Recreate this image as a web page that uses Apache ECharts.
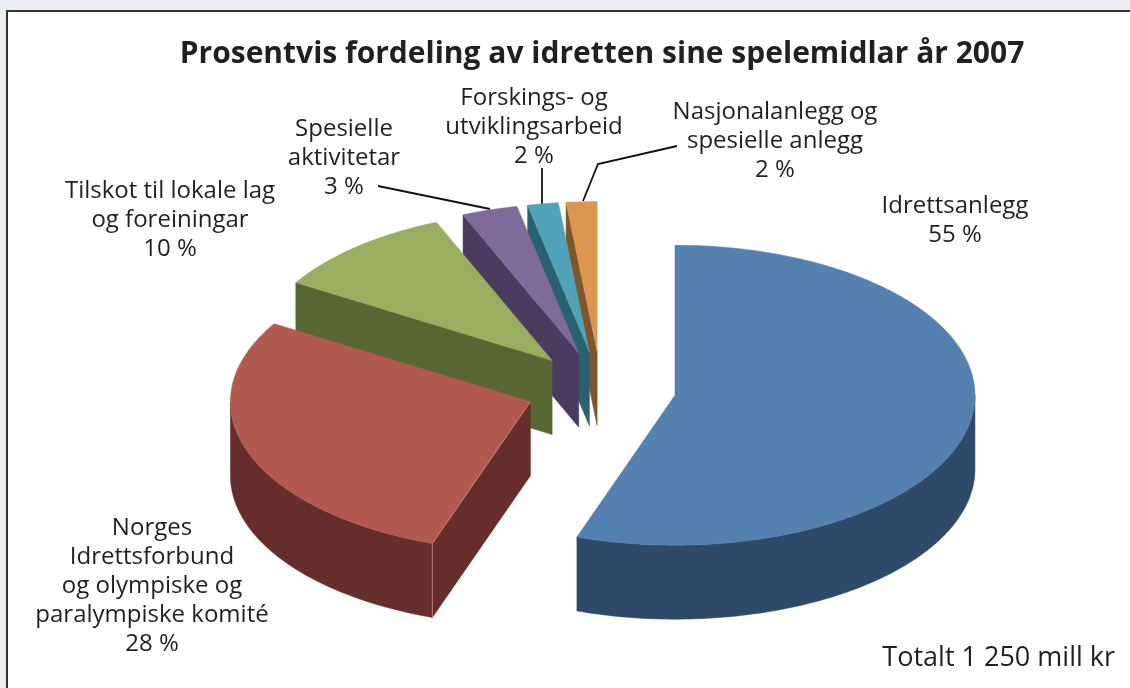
<!DOCTYPE html>
<html>
<head>
<meta charset="utf-8">
<style>
  html, body { margin: 0; padding: 0; background: #ebeff3; }
  #chart { width: 1130px; height: 688px; }
</style>
<script src="https://cdn.jsdelivr.net/npm/echarts@6/dist/echarts.min.js"></script>
</head>
<body>
<div id="chart"></div>
<script>
const chartTitle = 'Prosentvis fordeling av idretten sine spelemidlar år 2007';
const totalText = 'Totalt 1 250 mill kr';
const categories = [
  'Idrettsanlegg',
  'Norges\nIdrettsforbund\nog olympiske og\nparalympiske komité',
  'Tilskot til lokale lag\nog foreiningar',
  'Spesielle\naktivitetar',
  'Forskings- og\nutviklingsarbeid',
  'Nasjonalanlegg og\nspesielle anlegg'
];
// share of the total; the labels round them
const values = [55.3, 28.4, 10, 3, 1.65, 1.65];

const topColors = ['#5481b0', '#b25a50', '#9aae5f', '#7f6a9a', '#4fa2b8', '#dc964f'];
const wallColors = ['#2e4a68', '#652e2b', '#576633', '#4b3b5e', '#286170', '#7f552a'];
const labelPos = [[955, 192], [152, 514], [170, 177], [344, 115], [534, 84], [775, 98]];
const leaders = [
  null, null, null,
  [[378, 186], [490, 209]],
  [[542, 168], [542, 204]],
  [[677, 146], [598, 164], [583, 201]]
];

const cx = 601, cy = 389, rx = 300, ry = 150, depth = 74, explode = 0.25;
const textColor = '#231f20';
const textFont = '"Open Sans", sans-serif';

const total = values.reduce((a, b) => a + b, 0);
let acc = 0;
const sliceRows = values.map((v, i) => {
  const start = acc / total * 360;
  acc += v;
  return [v, start, acc / total * 360, i];
});

function onRim(a, deg) {
  const t = deg * Math.PI / 180;
  return [a[0] + rx * Math.sin(t), a[1] - ry * Math.cos(t)];
}

function lower(p) {
  return [p[0], p[1] + depth];
}

function renderSlice(params, api) {
  const start = api.value(1), end = api.value(2), i = api.value(3);
  const mid = (start + end) / 2 * Math.PI / 180;
  const apex = [cx + explode * rx * Math.sin(mid), cy - explode * ry * Math.cos(mid)];
  const rim = [];
  for (let d = start; d < end; d += 1) rim.push(onRim(apex, d));
  rim.push(onRim(apex, end));
  const first = rim[0], last = rim[rim.length - 1];
  const wall = pts => ({
    type: 'polygon',
    shape: { points: pts },
    style: { fill: wallColors[i], stroke: wallColors[i], lineWidth: 0.5 }
  });
  const children = [];
  // a radial wall shows only when the slice lies above its top edge
  if (start > 180) children.push(wall([apex, first, lower(first), lower(apex)]));
  if (end < 180) children.push(wall([apex, last, lower(last), lower(apex)]));
  // outer wall on the front half of the rim
  const front = [];
  for (let d = Math.max(start, 90); d < Math.min(end, 270); d += 1) front.push(onRim(apex, d));
  if (end > 90 && start < 270) front.push(onRim(apex, Math.min(end, 270)));
  if (front.length > 1) children.push(wall(front.concat(front.map(lower).reverse())));
  children.push({
    type: 'polygon',
    shape: { points: [apex].concat(rim) },
    style: { fill: topColors[i], stroke: topColors[i], lineWidth: 0.5 }
  });
  // thin pale edge where the cut meets the outer wall
  if (start > 180 && start < 270) {
    children.push({
      type: 'polyline',
      shape: { points: [apex, first, lower(first)] },
      style: { stroke: '#c98d85', lineWidth: 0.8, fill: null }
    });
  }
  return { type: 'group', children: children };
}

const labels = categories.map((name, i) => ({
  type: 'text',
  x: labelPos[i][0],
  y: labelPos[i][1],
  style: {
    text: name + '\n' + Math.round(values[i]) + ' %',
    fill: textColor,
    font: '24px ' + textFont,
    lineHeight: 29,
    align: 'center',
    verticalAlign: 'top'
  }
}));

const leaderLines = leaders.filter(Boolean).map(pts => ({
  type: 'polyline',
  shape: { points: pts },
  style: { stroke: '#111111', lineWidth: 1.8, fill: null }
}));

const chart = echarts.init(document.getElementById('chart'), null, { renderer: 'canvas' });
chart.setOption({
  animation: false,
  backgroundColor: '#ebeff3',
  graphic: [
    {
      type: 'rect',
      z: -10,
      shape: { x: 7, y: 11, width: 1140, height: 700 },
      style: { fill: '#ffffff', stroke: '#333333', lineWidth: 2 }
    },
    {
      type: 'text',
      x: 602,
      y: 54,
      style: {
        text: chartTitle,
        fill: textColor,
        font: 'bold 30px ' + textFont,
        align: 'center',
        verticalAlign: 'middle'
      }
    },
    {
      type: 'text',
      x: 1115,
      y: 658,
      style: {
        text: totalText,
        fill: textColor,
        font: '27px ' + textFont,
        align: 'right',
        verticalAlign: 'middle'
      }
    }
  ].concat(labels, leaderLines),
  series: [{
    type: 'custom',
    coordinateSystem: 'none',
    silent: true,
    renderItem: renderSlice,
    // drawn back to front: small rear slices first
    data: sliceRows.slice().reverse()
  }]
});
</script>
</body>
</html>
